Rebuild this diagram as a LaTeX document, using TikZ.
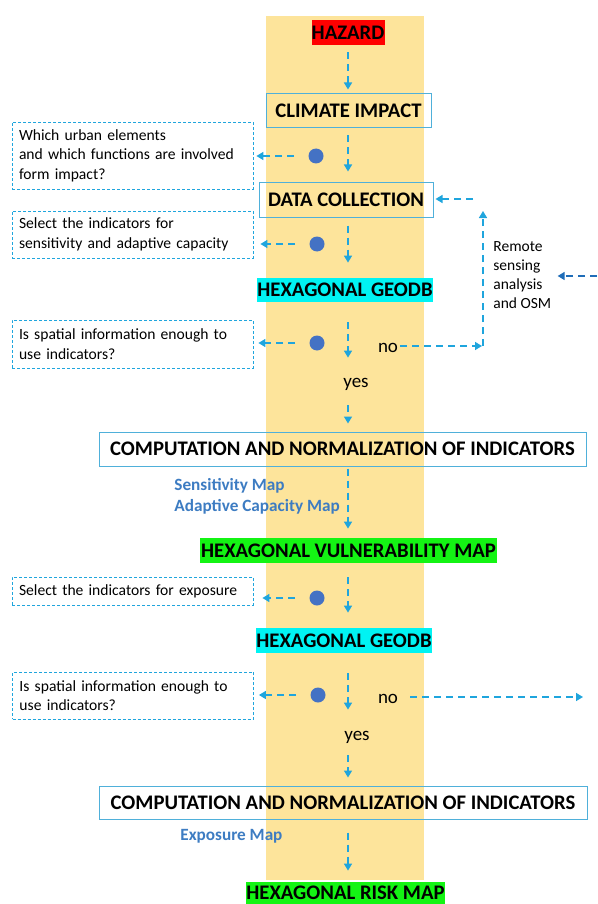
\documentclass[tikz,border=0pt]{standalone}
\usepackage{fontspec}
\setmainfont{Carlito}
\usetikzlibrary{arrows.meta}

\definecolor{bandyellow}{HTML}{FDE49B}
\definecolor{flowblue}{HTML}{1FA5DD}
\definecolor{boxblue}{HTML}{4FB0DA}
\definecolor{dotblue}{HTML}{4472C4}
\definecolor{mapblue}{HTML}{3D7CC2}
\definecolor{darkblue}{HTML}{1F6DB8}
\definecolor{hazardred}{HTML}{FF0000}
\definecolor{geocyan}{HTML}{00F3F3}
\definecolor{mapgreen}{HTML}{14F414}

\begin{document}
\begin{tikzpicture}[x=1pt, y=-1pt, thick,
    flow/.style={draw=flowblue, line width=1.5pt, dash pattern=on 7pt off 5pt,
        -{Triangle[width=8pt,length=7pt]}},
    stage/.style={inner sep=0pt, font=\fontsize{20.7}{24}\selectfont\bfseries},
    framed/.style={stage, draw=boxblue, line width=1pt},
    qbox/.style={draw=flowblue, line width=0.8pt, dash pattern=on 3pt off 2pt,
        text width=227pt, inner xsep=7pt, inner ysep=0pt, align=left,
        font=\fontsize{15.6}{19.5}\selectfont},
    blob/.style={circle, fill=dotblue, inner sep=0pt, minimum size=15pt},
    word/.style={inner sep=0pt, text height=10pt, text depth=4pt,
        font=\fontsize{19}{23}\selectfont},
    maplabel/.style={inner sep=0pt, align=left, text=mapblue,
        font=\fontsize{17.2}{21}\selectfont\bfseries}
]

    % 1. Frame and the yellow band
    \useasboundingbox (0,0) rectangle (597,904);
    \fill[bandyellow] (266,16) rectangle (424,880);

    % 2. Stages on the main axis
    \node[stage, fill=hazardred, minimum width=73pt, minimum height=25pt] (hazard) at (348,32.5) {HAZARD};
    \node[framed, minimum width=165pt, minimum height=34pt] (climate) at (348.5,111) {CLIMATE IMPACT};
    \node[framed, minimum width=174pt, minimum height=34pt] (data) at (346,200) {DATA COLLECTION};
    \node[stage, fill=geocyan, minimum width=176pt, minimum height=24pt] (geodb1) at (345,290) {HEXAGONAL GEODB};
    \node[framed, minimum width=487pt, minimum height=34pt] (comp1) at (342.5,449) {COMPUTATION AND NORMALIZATION OF INDICATORS};
    \node[stage, fill=mapgreen, minimum width=297pt, minimum height=25pt] (vuln) at (348.5,550.5) {HEXAGONAL VULNERABILITY MAP};
    \node[stage, fill=geocyan, minimum width=176pt, minimum height=25pt] (geodb2) at (344,640.5) {HEXAGONAL GEODB};
    \node[framed, minimum width=488pt, minimum height=33pt] (comp2) at (343,802.5) {COMPUTATION AND NORMALIZATION OF INDICATORS};
    \node[stage, fill=mapgreen, minimum width=199pt, minimum height=22pt] (risk) at (345.5,893) {HEXAGONAL RISK MAP};

    % 3. Questions on the left
    \node[qbox, minimum height=67pt] (q1) at (132.5,155.5) {Which urban elements\\and which functions are involved\\form impact?};
    \node[qbox, minimum height=47pt] (q2) at (132.5,234.5) {Select the indicators for\\sensitivity and adaptive capacity};
    \node[qbox, minimum height=48pt] (q3) at (132.5,344) {Is spatial information enough to\\use indicators?};
    \node[qbox, minimum height=28pt] (q4) at (132.5,591) {Select the indicators for exposure};
    \node[qbox, minimum height=47pt] (q5) at (133,695.5) {Is spatial information enough to\\use indicators?};

    % 4. Dots
    \node[blob] (d1) at (316,156) {};
    \node[blob] (d2) at (317,244) {};
    \node[blob] (d3) at (317,343) {};
    \node[blob] (d4) at (317,598) {};
    \node[blob] (d5) at (318,695) {};

    % 5. yes / no and the side labels
    \node[word, anchor=base] (no1) at (388,352) {no};
    \node[word, anchor=base] (yes1) at (356,387) {yes};
    \node[word, anchor=base] (no2) at (388,703) {no};
    \node[word, anchor=base] (yes2) at (357,740) {yes};
    \node[inner sep=0pt, align=left, anchor=north west, font=\fontsize{15.5}{19}\selectfont] (remote) at (493,241.5) {Remote\\sensing\\analysis\\and OSM};
    \node[maplabel, anchor=north west] (vmaps) at (174,478) {Sensitivity Map\\Adaptive Capacity Map};
    \node[maplabel, anchor=base west] (emaps) at (180,840) {Exposure Map};

    % 6. Free ends
    \coordinate (axis) at (348,0);
    \coordinate (bend) at (483,346);
    \coordinate (rtop) at (483,199);
    \coordinate (edge) at (597,276);
    \coordinate (exit) at (583,697);

    % 7. Main flow
    \draw[flow, shorten <=7pt, shorten >=4pt] (axis |- hazard.south) -- (axis |- climate.north);
    \draw[flow, shorten <=7pt, shorten >=11pt] (axis |- climate.south) -- (axis |- data.north);
    \draw[flow, shorten <=8pt, shorten >=15pt] (axis |- data.south) -- (axis |- geodb1.north);
    \draw[flow, shorten <=20pt, shorten >=19pt] (axis |- geodb1.south) -- (axis |- yes1.north);
    \draw[flow, shorten <=14pt, shorten >=8pt] (axis |- yes1.south) -- (axis |- comp1.north);
    \draw[flow, shorten <=2pt, shorten >=9pt] (axis |- comp1.south) -- (axis |- vuln.north);
    \draw[flow, shorten <=14pt, shorten >=15pt] (axis |- vuln.south) -- (axis |- geodb2.north);
    \draw[flow, shorten <=20pt, shorten >=20pt] (axis |- geodb2.south) -- (axis |- yes2.north);
    \draw[flow, shorten <=11pt, shorten >=8pt] (axis |- yes2.south) -- (axis |- comp2.north);
    \draw[flow, shorten <=13pt, shorten >=11pt] (axis |- comp2.south) -- (axis |- risk.north);

    % 8. Dots to questions
    \foreach \d/\q/\s in {d1/q1/3, d2/q2/7, d3/q3/5, d4/q4/9, d5/q5/5}
        \draw[flow, shorten <=14pt, shorten >=\s pt] (\d.west) -- (\d -| \q.east);

    % 9. The "no" loops
    \draw[flow, shorten <=2pt, shorten >=1pt] (no1.east |- bend) -- (bend);
    \draw[flow, shorten >=12pt] (bend) -- (rtop);
    \draw[flow, shorten <=10pt, shorten >=2pt] (rtop) -- (rtop -| data.east);
    \draw[flow, draw=darkblue, shorten >=6pt] (edge) -- (edge -| remote.east);
    \draw[flow, shorten <=12pt] (no2.east |- exit) -- (exit);

\end{tikzpicture}
\end{document}
